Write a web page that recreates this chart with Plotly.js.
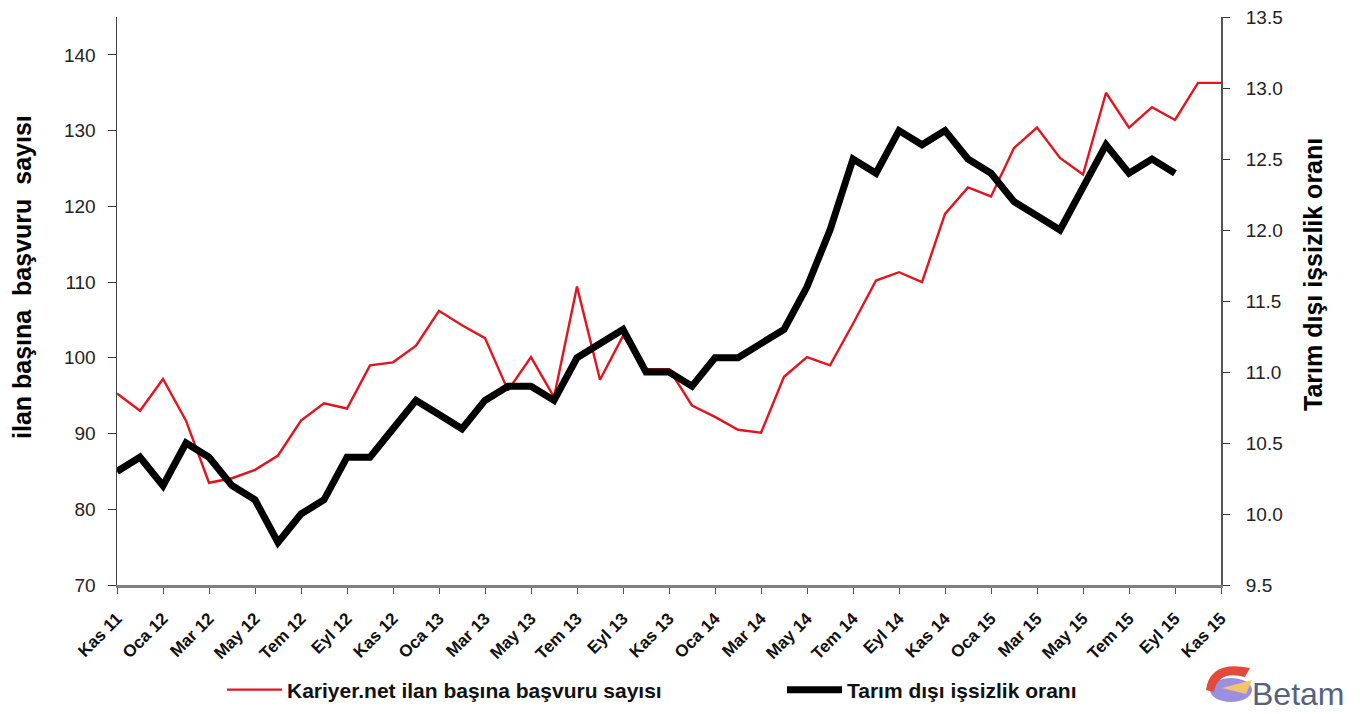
<!DOCTYPE html>
<html>
<head>
<meta charset="utf-8">
<script src="https://cdn.plot.ly/plotly-3.0.1.min.js"></script>
<style>html,body{margin:0;padding:0;background:#fff;}#chart{width:1360px;height:714px;}</style>
</head>
<body>
<div id="chart"></div>
<script>
const months = ["Kas 11","Ara 11","Oca 12","Şub 12","Mar 12","Nis 12","May 12","Haz 12","Tem 12","Ağu 12","Eyl 12","Eki 12",
"Kas 12","Ara 12","Oca 13","Şub 13","Mar 13","Nis 13","May 13","Haz 13","Tem 13","Ağu 13","Eyl 13","Eki 13",
"Kas 13","Ara 13","Oca 14","Şub 14","Mar 14","Nis 14","May 14","Haz 14","Tem 14","Ağu 14","Eyl 14","Eki 14",
"Kas 14","Ara 14","Oca 15","Şub 15","Mar 15","Nis 15","May 15","Haz 15","Tem 15","Ağu 15","Eyl 15","Eki 15","Kas 15"];
const tickLabels = ["Kas 11","Oca 12","Mar 12","May 12","Tem 12","Eyl 12","Kas 12","Oca 13","Mar 13","May 13","Tem 13","Eyl 13",
"Kas 13","Oca 14","Mar 14","May 14","Tem 14","Eyl 14","Kas 14","Oca 15","Mar 15","May 15","Tem 15","Eyl 15","Kas 15"];
const basvuru = [95.3,93.0,97.2,91.7,83.5,84.1,85.2,87.1,91.7,94.0,93.3,99.0,
99.4,101.6,106.2,104.3,102.6,95.7,100.1,94.8,109.4,97.1,102.9,98.5,
98.5,93.7,92.2,90.5,90.1,97.5,100.1,99.0,104.5,110.2,111.3,110.0,
119.0,122.5,121.3,127.7,130.4,126.4,124.2,135.0,130.4,133.1,131.4,136.3,136.3];
const issizlik = [10.3,10.4,10.2,10.5,10.4,10.2,10.1,9.8,10.0,10.1,10.4,10.4,
10.6,10.8,10.7,10.6,10.8,10.9,10.9,10.8,11.1,11.2,11.3,11.0,
11.0,10.9,11.1,11.1,11.2,11.3,11.6,12.0,12.5,12.4,12.7,12.6,
12.7,12.5,12.4,12.2,12.1,12.0,12.3,12.6,12.4,12.5,12.4,null,null];
const leftTicks = [70,80,90,100,110,120,130,140];
const rightTicks = [9.5,10.0,10.5,11.0,11.5,12.0,12.5,13.0,13.5];
const rightTickText = ["9.5","10.0","10.5","11.0","11.5","12.0","12.5","13.0","13.5"];

const FONT = "Liberation Sans, Arial, sans-serif";
const W = 1360, H = 714;
const L = 117, R = 1221, T = 17, B = 585;
const px = v => (v - L) / (R - L);
const py = v => (B - v) / (B - T);
const cx = v => v / W;
const cy = v => 1 - v / H;

const traces = [
  {x: months, y: basvuru, type: 'scatter', mode: 'lines', name: 'Kariyer.net ilan başına başvuru sayısı',
   line: {color: '#e3141e', width: 2.4}, yaxis: 'y', legend: 'legend'},
  {x: months, y: issizlik, type: 'scatter', mode: 'lines', name: 'Tarım dışı işsizlik oranı',
   line: {color: '#000000', width: 7}, yaxis: 'y2', legend: 'legend2'}
];

const legFont = {family: FONT, size: 21, color: '#111', weight: 'bold'};

const layout = {
  width: W, height: H,
  margin: {l: L, r: W - R, t: T, b: H - B, autoexpand: false},
  paper_bgcolor: '#fff', plot_bgcolor: '#fff',
  showlegend: true,
  font: {family: FONT, color: '#000'},
  xaxis: {
    type: 'category', range: [0, 48], showgrid: false, zeroline: false, automargin: false,
    tickmode: 'array', tickvals: tickLabels, ticktext: tickLabels,
    tickangle: -45, tickfont: {family: FONT, size: 17, color: '#111', weight: 'bold'},
    ticks: 'outside', ticklen: 6, tickcolor: '#555', ticklabelstandoff: 8,
    showline: true, linecolor: '#808080', linewidth: 3
  },
  yaxis: {
    range: [70, 145], tickmode: 'array', tickvals: leftTicks, automargin: false,
    showgrid: false, zeroline: false, ticks: 'outside', ticklen: 8, tickcolor: '#333',
    showline: true, linecolor: '#444', linewidth: 1.5, ticklabelstandoff: 8,
    tickfont: {family: FONT, size: 19, color: '#222'}
  },
  yaxis2: {
    range: [9.5, 13.5], overlaying: 'y', side: 'right', tickmode: 'array', automargin: false,
    tickvals: rightTicks, ticktext: rightTickText,
    showgrid: false, zeroline: false, ticks: 'outside', ticklen: 7, tickcolor: '#333',
    showline: true, linecolor: '#555', linewidth: 2, ticklabelstandoff: 12,
    tickfont: {family: FONT, size: 19, color: '#222'}
  },
  legend: {
    orientation: 'h', xref: 'container', yref: 'container', x: cx(222), y: cy(690),
    xanchor: 'left', yanchor: 'middle',
    font: legFont, itemwidth: 55, bgcolor: 'rgba(0,0,0,0)'
  },
  legend2: {
    orientation: 'h', xref: 'container', yref: 'container', x: cx(782), y: cy(690),
    xanchor: 'left', yanchor: 'middle',
    font: legFont, itemwidth: 55, bgcolor: 'rgba(0,0,0,0)'
  },
  annotations: [
    {text: 'ilan başına  başvuru  sayısı', xref: 'paper', yref: 'paper', x: px(22), y: py(277),
     xanchor: 'center', yanchor: 'middle',
     textangle: -90, showarrow: false, font: {family: FONT, size: 25, color: '#000', weight: 'bold'}},
    {text: 'Tarım dışı işsizlik oranı', xref: 'paper', yref: 'paper', x: px(1313), y: py(275),
     xanchor: 'center', yanchor: 'middle',
     textangle: -90, showarrow: false, font: {family: FONT, size: 25, color: '#000', weight: 'bold'}},
    {text: 'Betam', xref: 'paper', yref: 'paper', x: px(1298), y: py(694),
     xanchor: 'center', yanchor: 'middle', showarrow: false,
     font: {family: FONT, size: 32, color: '#56627c'}}
  ],
  shapes: [
    {type: 'circle', xref: 'paper', yref: 'paper', x0: px(1210), x1: px(1252), y0: py(702), y1: py(678),
     fillcolor: '#9a8fe0', line: {width: 0}},
    {type: 'path', xref: 'paper', yref: 'paper',
     path: `M ${px(1222)} ${py(688)} L ${px(1252)} ${py(680)} L ${px(1246)} ${py(694)} Z`,
     fillcolor: '#f3c46a', line: {width: 0}},
    {type: 'path', xref: 'paper', yref: 'paper',
     path: `M ${px(1206)} ${py(690)} Q ${px(1210)} ${py(660)} ${px(1250)} ${py(668)} L ${px(1245)} ${py(677)} Q ${px(1218)} ${py(670)} ${px(1214)} ${py(692)} Z`,
     fillcolor: '#e24a3b', line: {width: 0}}
  ]
};

Plotly.newPlot('chart', traces, layout, {displayModeBar: false, staticPlot: true});
</script>
</body>
</html>
